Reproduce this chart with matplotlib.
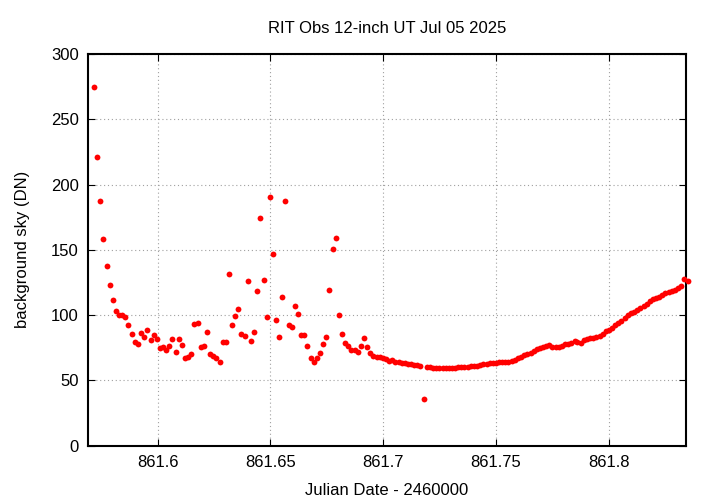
import matplotlib
matplotlib.use("Agg")
import matplotlib.pyplot as plt
from matplotlib.ticker import FuncFormatter

plt.rcParams["font.family"] = ["Liberation Sans", "DejaVu Sans"]

title = "RIT Obs 12-inch UT Jul 05 2025"
xlabel = "Julian Date - 2460000"
ylabel = "background sky (DN)"

# JD - 2460000, one frame every ~2 minutes
jd = [
    861.5718, 861.5732, 861.5746, 861.5760, 861.5774, 861.5788, 861.5802, 861.5815,
    861.5829, 861.5843, 861.5857, 861.5871, 861.5885, 861.5899, 861.5913, 861.5927,
    861.5941, 861.5955, 861.5969, 861.5983, 861.5997, 861.6010, 861.6024, 861.6038,
    861.6052, 861.6066, 861.6080, 861.6094, 861.6108, 861.6122, 861.6136, 861.6150,
    861.6164, 861.6178, 861.6191, 861.6205, 861.6219, 861.6233, 861.6247, 861.6261,
    861.6275, 861.6289, 861.6303, 861.6317, 861.6331, 861.6345, 861.6359, 861.6372,
    861.6386, 861.6400, 861.6414, 861.6428, 861.6442, 861.6456, 861.6470, 861.6484,
    861.6498, 861.6512, 861.6526, 861.6540, 861.6554, 861.6567, 861.6581, 861.6595,
    861.6609, 861.6623, 861.6637, 861.6651, 861.6665, 861.6679, 861.6693, 861.6707,
    861.6721, 861.6735, 861.6748, 861.6762, 861.6776, 861.6790, 861.6804, 861.6818,
    861.6832, 861.6846, 861.6860, 861.6874, 861.6888, 861.6902, 861.6916, 861.6929,
    861.6943, 861.6957, 861.6971, 861.6985, 861.6999, 861.7013, 861.7027, 861.7041,
    861.7055, 861.7069, 861.7083, 861.7097, 861.7111, 861.7124, 861.7138, 861.7152,
    861.7166, 861.7180, 861.7194, 861.7208, 861.7222, 861.7236, 861.7250, 861.7264,
    861.7278, 861.7292, 861.7305, 861.7319, 861.7333, 861.7347, 861.7361, 861.7375,
    861.7389, 861.7403, 861.7417, 861.7431, 861.7445, 861.7459, 861.7473, 861.7486,
    861.7500, 861.7514, 861.7528, 861.7542, 861.7556, 861.7570, 861.7584, 861.7598,
    861.7612, 861.7626, 861.7640, 861.7654, 861.7668, 861.7681, 861.7695, 861.7709,
    861.7723, 861.7737, 861.7751, 861.7765, 861.7779, 861.7793, 861.7807, 861.7821,
    861.7835, 861.7849, 861.7862, 861.7876, 861.7890, 861.7904, 861.7918, 861.7932,
    861.7946, 861.7960, 861.7974, 861.7988, 861.8002, 861.8016, 861.8030, 861.8043,
    861.8057, 861.8071, 861.8085, 861.8099, 861.8113, 861.8127, 861.8141, 861.8155,
    861.8169, 861.8183, 861.8197, 861.8211, 861.8225, 861.8238, 861.8252, 861.8266,
    861.8280, 861.8294, 861.8308, 861.8322, 861.8336, 861.8350,
]

sky = [
    274.4, 221.3, 187.6, 158.0, 137.6, 122.8, 111.3, 102.9, 99.8, 99.8,
    98.8, 92.6, 85.8, 79.6, 77.9, 86.5, 83.5, 88.6, 80.9, 84.5,
    81.9, 75.0, 75.6, 73.0, 76.6, 81.9, 72.0, 81.5, 77.1, 67.4,
    67.7, 70.4, 93.4, 94.0, 75.8, 76.3, 87.1, 70.4, 68.7, 67.2,
    64.1, 79.2, 79.2, 131.5, 92.2, 99.5, 104.9, 85.8, 83.8, 125.9,
    80.4, 86.8, 118.7, 174.1, 127.1, 98.8, 190.4, 146.6, 96.5, 83.2,
    114.1, 187.1, 92.2, 91.1, 107.2, 101.1, 85.0, 85.0, 76.6, 67.2,
    64.1, 67.2, 70.7, 77.6, 83.5, 119.0, 150.6, 158.8, 100.3, 85.5,
    78.6, 76.3, 73.3, 73.3, 71.7, 76.6, 82.7, 75.6, 71.2, 68.9,
    68.1, 67.9, 67.2, 66.2, 65.0, 65.4, 64.3, 63.8, 63.6, 63.3,
    62.8, 62.6, 62.1, 61.5, 61.0, 36.0, 60.5, 60.0, 59.7, 59.7,
    59.7, 59.5, 59.5, 59.5, 59.2, 59.5, 60.0, 60.2, 60.5, 60.5,
    60.7, 61.0, 61.4, 61.8, 62.3, 62.7, 63.0, 63.3, 63.6, 63.8,
    64.0, 64.0, 64.3, 64.9, 66.0, 67.2, 68.3, 69.5, 70.3, 71.3,
    72.5, 74.0, 74.6, 75.2, 76.0, 77.1, 75.3, 75.2, 75.3, 76.5,
    77.5, 78.0, 78.7, 79.8, 79.5, 78.4, 81.3, 81.8, 82.2, 82.6,
    83.2, 83.9, 85.5, 87.5, 88.6, 90.4, 92.4, 94.1, 95.8, 98.0,
    100.2, 101.6, 102.7, 104.3, 105.7, 107.0, 108.8, 110.6, 112.3, 113.1,
    113.6, 115.6, 116.6, 117.4, 118.5, 119.6, 121.0, 122.0, 127.4, 126.1,
]

xticks = [861.6, 861.65, 861.7, 861.75, 861.8]
yticks = [0, 50, 100, 150, 200, 250, 300]

fig = plt.figure(figsize=(7.2, 5.04), dpi=100)
ax = fig.add_axes([0.1229, 0.1157, 0.8295, 0.7772])

ax.plot(jd, sky, "o", color="#ff0000", markersize=4.2, markeredgewidth=0,
        clip_on=False, zorder=3)

ax.set_xlim(861.5694, 861.8342)
ax.set_ylim(0, 300)
ax.set_xticks(xticks)
ax.set_yticks(yticks)
ax.xaxis.set_major_formatter(FuncFormatter(lambda v, p: "%g" % v))

ax.grid(True, color="#a0a0a0", linestyle=(0, (1, 2.5)), linewidth=0.8)
ax.tick_params(direction="in", length=5, width=0.8, top=True, right=True,
               labelsize=12, pad=7)
for s in ax.spines.values():
    s.set_linewidth(1.5)

ax.set_title(title, fontsize=12, pad=15)
ax.set_xlabel(xlabel, fontsize=12, labelpad=9)
ax.set_ylabel(ylabel, fontsize=12, labelpad=15)

fig.savefig("out.png", dpi=100)
